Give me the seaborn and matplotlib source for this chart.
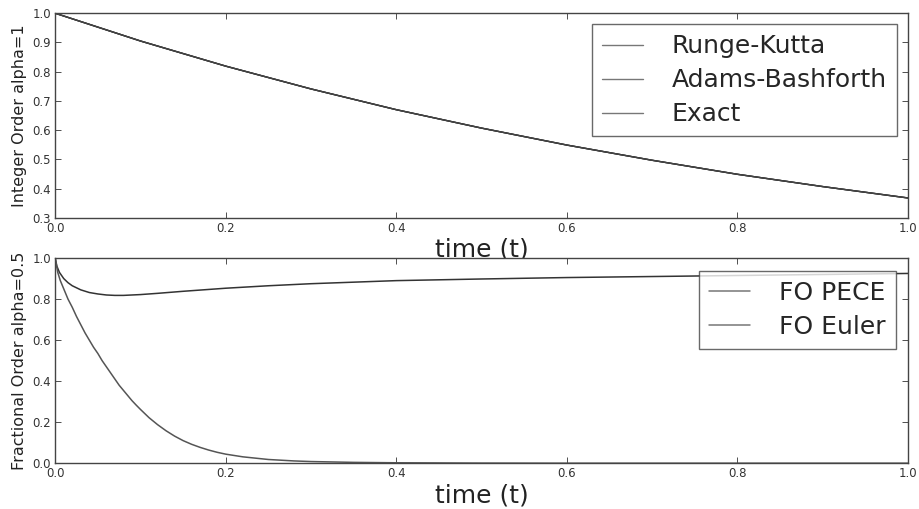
import numpy as np
import pandas as pd
import seaborn as sns
import matplotlib.pyplot as plt

# Integer order (alpha = 1)
t_int = [0.0, 0.1, 0.2, 0.3, 0.4, 0.5, 0.6, 0.7, 0.8, 0.9, 1.0]
runge_kutta = [1.0, 0.905, 0.819, 0.741, 0.670, 0.607, 0.549, 0.497, 0.449, 0.407, 0.368]
adams_bashforth = [1.0, 0.905, 0.819, 0.741, 0.670, 0.607, 0.549, 0.497, 0.449, 0.407, 0.368]
exact = [1.0, 0.905, 0.819, 0.741, 0.670, 0.607, 0.549, 0.497, 0.449, 0.407, 0.368]

# Fractional order (alpha = 0.5)
t_pece = [0.0, 0.002, 0.005, 0.01, 0.015, 0.02, 0.03, 0.04, 0.05, 0.06, 0.07, 0.08, 0.1, 0.12, 0.15,
          0.2, 0.25, 0.3, 0.4, 0.5, 0.6, 0.7, 0.8, 0.9, 1.0]
fo_pece = [1.0, 0.96, 0.93, 0.90, 0.88, 0.865, 0.845, 0.832, 0.825, 0.82, 0.818, 0.818, 0.822, 0.828, 0.838,
           0.853, 0.865, 0.875, 0.89, 0.898, 0.905, 0.91, 0.915, 0.92, 0.925]
t_euler = [0.0, 0.003, 0.006, 0.01, 0.015, 0.02, 0.025, 0.03, 0.035, 0.04, 0.045, 0.05, 0.055, 0.06, 0.065,
           0.07, 0.075, 0.08, 0.085, 0.09, 0.095, 0.1, 0.11, 0.12, 0.13, 0.14, 0.15, 0.16, 0.17, 0.18,
           0.19, 0.2, 0.22, 0.25, 0.28, 0.3, 0.35, 0.4, 0.5, 0.6, 1.0]
fo_euler = [1.0, 0.93, 0.89, 0.85, 0.8, 0.76, 0.715, 0.675, 0.635, 0.6, 0.565, 0.535, 0.5, 0.47, 0.44,
            0.41, 0.38, 0.355, 0.33, 0.305, 0.283, 0.262, 0.222, 0.188, 0.158, 0.132, 0.11, 0.092, 0.077, 0.064,
            0.053, 0.044, 0.031, 0.018, 0.011, 0.008, 0.004, 0.002, 0.0005, 0.0, 0.0]

sns.set_style("ticks", {"xtick.direction": "in", "ytick.direction": "in"})
plt.rcParams["font.family"] = ["DejaVu Sans"]

fig = plt.figure(figsize=(9.2, 5.09), dpi=100)
ax1 = fig.add_axes([0.06, 0.572, 0.927, 0.402])
ax2 = fig.add_axes([0.06, 0.090, 0.927, 0.403])
ax2.set_facecolor("white")

df_int = pd.DataFrame({"t": t_int, "rk": runge_kutta, "ab": adams_bashforth, "ex": exact})
sns.lineplot(data=df_int, x="t", y="rk", ax=ax1, color="#555555", lw=1, label="Runge-Kutta")
sns.lineplot(data=df_int, x="t", y="ab", ax=ax1, color="#222222", lw=1, label="Adams-Bashforth")
sns.lineplot(data=df_int, x="t", y="ex", ax=ax1, color="#444444", lw=1, label="Exact")

sns.lineplot(x=t_pece, y=fo_pece, ax=ax2, color="#333333", lw=1.1, label="FO PECE")
sns.lineplot(x=t_euler, y=fo_euler, ax=ax2, color="#555555", lw=1.1, label="FO Euler")

for ax in (ax1, ax2):
    ax.set_xlim(0, 1)
    ax.tick_params(top=True, right=True, labelsize=8.5, colors="#333333", length=4, width=0.6, pad=3)
    for s in ax.spines.values():
        s.set_color("#444444")
        s.set_linewidth(1.0)
    ax.set_xlabel("time (t)", fontsize=18, color="#222222", labelpad=2)
    ax.set_xticks([0.0, 0.2, 0.4, 0.6, 0.8, 1.0])

ax1.set_ylim(0.3, 1.0)
ax1.set_yticks([0.3, 0.4, 0.5, 0.6, 0.7, 0.8, 0.9, 1.0])
ax1.set_ylabel("Integer Order alpha=1", fontsize=11.5, color="#222222", labelpad=4)
ax2.set_ylim(0.0, 1.0)
ax2.set_yticks([0.0, 0.2, 0.4, 0.6, 0.8, 1.0])
ax2.set_ylabel("Fractional Order alpha=0.5", fontsize=11.5, color="#222222", labelpad=4)

leg1 = ax1.legend(loc="upper right", fontsize=18, frameon=True, fancybox=False,
                  borderaxespad=0.45, handlelength=1.65, handletextpad=1.15, labelspacing=0.4,
                  borderpad=0.4)
leg1.get_frame().set_edgecolor("#444444")
leg2 = ax2.legend(loc="upper right", fontsize=18, frameon=True, fancybox=False,
                  borderaxespad=0.5, handlelength=1.65, handletextpad=1.15, labelspacing=0.4,
                  borderpad=0.4)
leg2.get_frame().set_edgecolor("#444444")
for leg in (leg1, leg2):
    for h in leg.legend_handles:
        h.set_color("#777777")

fig.savefig("out.png", dpi=100)
